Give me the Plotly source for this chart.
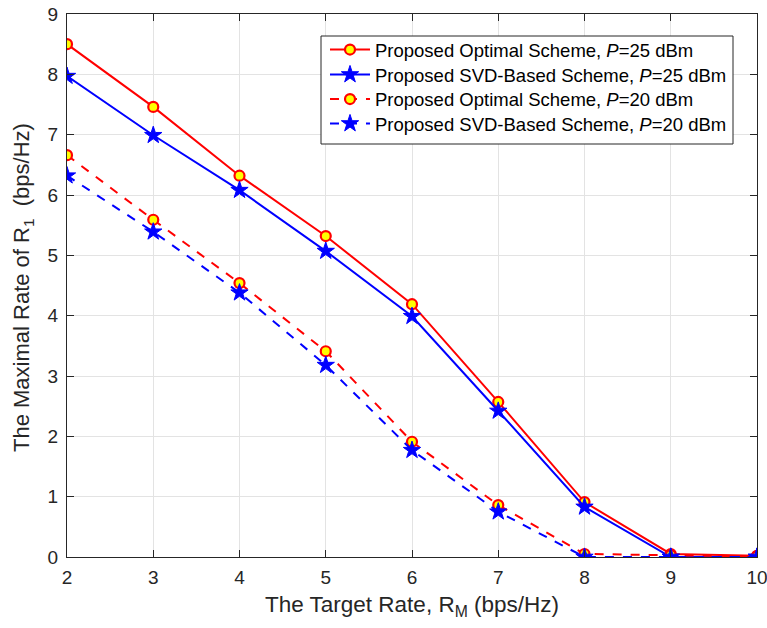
import plotly.graph_objects as go

x_rate = [2, 3, 4, 5, 6, 7, 8, 9, 10]
opt_25 = [8.50, 7.46, 6.32, 5.32, 4.19, 2.57, 0.91, 0.05, 0.02]
svd_25 = [7.97, 6.99, 6.08, 5.07, 3.99, 2.42, 0.83, 0.00, 0.00]
opt_20 = [6.66, 5.59, 4.54, 3.41, 1.91, 0.86, 0.05, 0.03, 0.01]
svd_20 = [6.32, 5.39, 4.38, 3.18, 1.77, 0.75, 0.00, 0.00, 0.00]

names = [
    "Proposed Optimal Scheme, <i>P</i>=25 dBm",
    "Proposed SVD-Based Scheme, <i>P</i>=25 dBm",
    "Proposed Optimal Scheme, <i>P</i>=20 dBm",
    "Proposed SVD-Based Scheme, <i>P</i>=20 dBm",
]

FONT = "Liberation Sans, Arial, Helvetica, sans-serif"
W, H = 767, 628
L, R, T, B = 67, 10, 14, 71
PW, PH = W - L - R, H - T - B


def px_x(px):
    return (px - L) / PW


def px_y(py):
    return (H - B - py) / PH


fig = go.Figure()
circle = dict(symbol="circle", size=10, color="#ffff00", line=dict(color="#ff0000", width=2.2))
star = dict(symbol="star", size=13, color="#0000ff", line=dict(color="#0000ff", width=1))

legend_ids = ["legend", "legend2", "legend3", "legend4"]
series = [
    (opt_25, "#ff0000", "solid", circle),
    (svd_25, "#0000ff", "solid", star),
    (opt_20, "#ff0000", "dash", circle),
    (svd_20, "#0000ff", "dash", star),
]
for (vals, col, dash, mk), nm, lg in zip(series, names, legend_ids):
    fig.add_trace(go.Scatter(x=x_rate, y=vals, mode="lines+markers", name=nm, legend=lg,
                             line=dict(color=col, width=2, dash=dash), marker=mk))

axis_common = dict(
    showgrid=True, gridcolor="#e3e3e3", gridwidth=1,
    showline=True, linecolor="#262626", linewidth=1, mirror="ticks",
    ticks="inside", ticklen=7, tickcolor="#262626",
    tickfont=dict(family=FONT, size=19, color="#262626"),
    zeroline=False, automargin=False, ticklabeloverflow="allow",
)

# legend box and row positions (pixel positions of the reference legend)
row_centers = [50, 75, 99.5, 124]
leg_common = dict(x=px_x(325), xanchor="left", yanchor="middle",
                  bgcolor="rgba(0,0,0,0)", borderwidth=0,
                  font=dict(family=FONT, size=18.5, color="black"), itemwidth=40)
legends = {}
for lg, rc in zip(legend_ids, row_centers):
    legends[lg] = dict(y=px_y(rc), **leg_common)

fig.update_layout(
    width=W, height=H,
    margin=dict(l=L, r=R, t=T, b=B),
    paper_bgcolor="white", plot_bgcolor="white",
    font=dict(family=FONT, color="#262626"),
    xaxis=dict(range=[2, 10], dtick=1, ticklabelstandoff=3,
               title=dict(text="The Target Rate, R<sub>M</sub> (bps/Hz)", font=dict(size=22.5), standoff=9),
               **axis_common),
    yaxis=dict(range=[0, 9], dtick=1, ticklabelstandoff=4, **axis_common),
    showlegend=True,
    shapes=[dict(type="rect", xref="paper", yref="paper",
                 x0=px_x(321), x1=px_x(733), y0=px_y(144), y1=px_y(36),
                 line=dict(color="#262626", width=1), fillcolor="white", layer="above")],
    annotations=[dict(text="The Maximal Rate of R<sub>1</sub>\u00a0 (bps/Hz)", textangle=-90,
                      xref="paper", yref="paper", x=px_x(23), y=px_y(288),
                      xanchor="center", yanchor="middle", showarrow=False,
                      font=dict(family=FONT, size=22, color="#262626"))],
    **legends,
)

fig.write_html("out.html", config={"displayModeBar": False},
               post_script="document.body.style.margin='0px';")
